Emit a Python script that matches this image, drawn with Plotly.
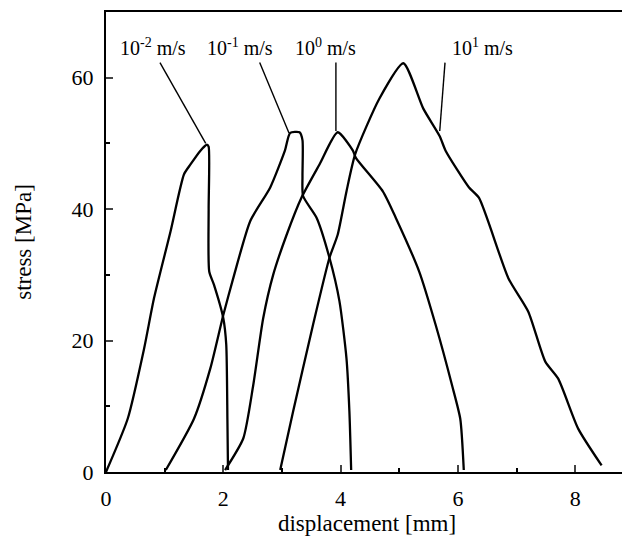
import plotly.graph_objects as go

# 10^-2 m/s
x_m2 = [0.0, 0.37, 0.65, 0.82, 1.10, 1.33, 1.44, 1.61, 1.72, 1.75, 1.75, 1.76, 1.84, 2.0, 2.05, 2.07, 2.08]
y_m2 = [0.0, 8.1, 18.8, 26.5, 36.6, 45.3, 46.8, 48.9, 49.8, 49.5, 40.0, 30.5, 28.5, 23.4, 19.4, 8.0, 0.3]
# 10^-1 m/s
x_m1 = [1.02, 1.5, 1.78, 2.0, 2.17, 2.46, 2.8, 3.05, 3.14, 3.30, 3.35, 3.35, 3.36, 3.59, 3.81, 3.98, 4.1, 4.15, 4.18]
y_m1 = [0.3, 8.1, 15.8, 23.9, 29.5, 38.2, 43.3, 48.9, 51.6, 51.7, 50.5, 45.0, 42.0, 38.7, 32.6, 26.0, 17.3, 9.2, 0.3]
# 10^0 m/s
x_0 = [2.03, 2.34, 2.51, 2.68, 2.85, 3.08, 3.33, 3.64, 3.95, 4.21, 4.26, 4.72, 4.94, 5.34, 5.62, 5.9, 6.04, 6.1]
y_0 = [0.3, 5.1, 13.2, 23.4, 30.0, 36.1, 41.7, 46.8, 51.7, 48.9, 47.8, 42.7, 38.7, 30.5, 22.4, 13.2, 8.1, 0.3]
# 10^1 m/s
x_1 = [2.97, 3.19, 3.53, 3.81, 3.95, 4.1, 4.25, 4.66, 5.07, 5.41, 5.69, 5.79, 6.19, 6.36, 6.86, 7.2, 7.49, 7.71, 8.05, 8.45]
y_1 = [0.3, 9.2, 22.4, 32.6, 36.1, 42.7, 48.4, 56.8, 62.2, 55.3, 51.1, 48.9, 43.3, 41.7, 29.5, 24.4, 16.8, 14.2, 6.6, 1.0]

labels = ["10<sup>-2</sup> m/s", "10<sup>-1</sup> m/s", "10<sup>0</sup> m/s", "10<sup>1</sup> m/s"]
label_x = [0.8, 2.29, 3.74, 6.42]
label_y = [64.6, 64.6, 64.6, 64.6]
leader_x0 = [0.92, 2.62, 3.92, 5.78]
leader_y0 = [62.3, 62.3, 62.3, 62.3]
leader_x1 = [1.70, 3.12, 3.92, 5.69]
leader_y1 = [50.0, 51.6, 51.9, 51.9]

fig = go.Figure()
for xs, ys in [(x_m2, y_m2), (x_m1, y_m1), (x_0, y_0), (x_1, y_1)]:
    fig.add_trace(go.Scatter(x=xs, y=ys, mode="lines",
                             line=dict(color="black", width=2.3, shape="spline", smoothing=0.6),
                             showlegend=False, hoverinfo="skip"))

for i in range(4):
    fig.add_shape(type="line", x0=leader_x0[i], y0=leader_y0[i], x1=leader_x1[i], y1=leader_y1[i],
                  line=dict(color="black", width=1.4))
    fig.add_annotation(x=label_x[i], y=label_y[i], text=labels[i], showarrow=False,
                       font=dict(family="Liberation Serif", size=20, color="black"),
                       xanchor="center", yanchor="middle")

# The page body adds an 8px offset; margins compensate for it.
fig.update_layout(
    width=622, height=530,
    margin=dict(l=98, r=0, t=4, b=66),
    paper_bgcolor="white", plot_bgcolor="white",
    font=dict(family="Liberation Serif", size=22, color="black"),
    xaxis=dict(range=[0, 8.9], tickvals=[0, 2, 4, 6, 8], ticks="inside", ticklen=7, tickwidth=1.5,
               showline=True, linecolor="black", linewidth=2, mirror=True, showgrid=False, zeroline=False,
               minor=dict(tickvals=[1, 3, 5, 7], ticks="inside", ticklen=4, tickcolor="black", showgrid=False),
               ticklabelstandoff=6,
               title=dict(text="displacement [mm]", standoff=2, font=dict(size=23)),
               tickfont=dict(size=22)),
    yaxis=dict(range=[0, 70], tickvals=[0, 20, 40, 60], ticks="inside", ticklen=7, tickwidth=1.5,
               showline=True, linecolor="black", linewidth=2, mirror=True, showgrid=False, zeroline=False,
               minor=dict(tickvals=[10, 30, 50], ticks="inside", ticklen=4, tickcolor="black", showgrid=False),
               ticklabelstandoff=6,
               title=dict(text="stress [MPa]", standoff=34, font=dict(size=23)),
               tickfont=dict(size=22)),
)
fig.write_html("out.html")
